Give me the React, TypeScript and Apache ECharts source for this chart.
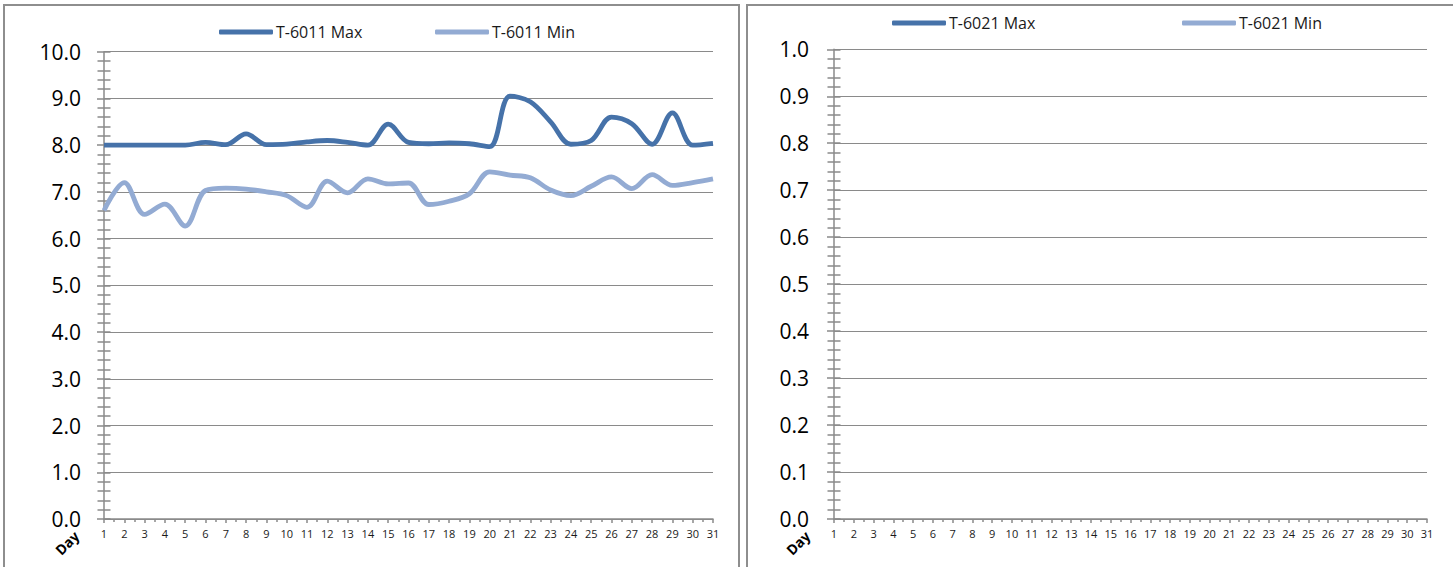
import React, { useEffect, useRef } from "react";
import * as echarts from "echarts";

const days = [1, 2, 3, 4, 5, 6, 7, 8, 9, 10, 11, 12, 13, 14, 15, 16, 17, 18, 19, 20, 21, 22, 23, 24, 25, 26, 27, 28, 29, 30, 31];

const t6011Max = [8.0, 8.0, 8.0, 8.0, 8.0, 8.06, 8.01, 8.24, 8.01, 8.02, 8.07, 8.1, 8.06, 8.0, 8.45, 8.06, 8.03, 8.05, 8.03, 7.97, 9.05, 8.93, 8.5, 8.02, 8.1, 8.6, 8.46, 8.02, 8.69, 8.0, 8.04];
const t6011Min = [6.6, 7.2, 6.52, 6.74, 6.27, 7.03, 7.08, 7.06, 7.0, 6.92, 6.67, 7.23, 6.98, 7.28, 7.17, 7.19, 6.73, 6.8, 6.96, 7.43, 7.36, 7.3, 7.04, 6.92, 7.12, 7.32, 7.07, 7.37, 7.14, 7.2, 7.28];
const t6021Max: (number | null)[] = [];
const t6021Min: (number | null)[] = [];

const leftNames = ["T-6011 Max", "T-6011 Min"];
const rightNames = ["T-6021 Max", "T-6021 Min"];

const COLOR_MAX = "#4672a9";
const COLOR_MIN = "#93abd3";
const GRID_COLOR = "#8a8a8a";
const FONT = "'Open Sans', 'Liberation Sans', sans-serif";

function pairs(vals: (number | null)[]) {
  return vals.map((v, i) => [days[i], v]);
}

function xAxes(gridIndex: number) {
  return [
    {
      type: "value",
      gridIndex,
      min: 1,
      max: 31,
      interval: 1,
      axisLine: { show: true, lineStyle: { color: GRID_COLOR, width: 1.5 } },
      axisTick: { show: true, length: 4, lineStyle: { color: GRID_COLOR, width: 1.5 } },
      axisLabel: { fontFamily: FONT, fontSize: 11, color: "#1a1a1a", margin: 9 },
      splitLine: { show: false },
    },
    {
      type: "value",
      gridIndex,
      min: 1,
      max: 31,
      interval: 1,
      axisLine: { show: false },
      axisTick: { show: false, inside: true },
      minorTick: { show: true, splitNumber: 2, length: 3, lineStyle: { color: GRID_COLOR, width: 1.5 } },
      axisLabel: { show: false },
      splitLine: { show: false },
    },
  ];
}

function yAxes(gridIndex: number, max: number, interval: number, margin: number) {
  return [
    {
      type: "value",
      gridIndex,
      position: "left",
      min: 0,
      max,
      interval,
      axisLine: { show: true, lineStyle: { color: GRID_COLOR, width: 1.5 } },
      axisTick: { show: true, length: 7, lineStyle: { color: GRID_COLOR, width: 1.5 } },
      minorTick: { show: true, splitNumber: 5, length: 6.5, lineStyle: { color: GRID_COLOR, width: 1.5 } },
      axisLabel: {
        fontFamily: FONT,
        fontSize: 21,
        color: "#000",
        margin,
        formatter: (v: number) => v.toFixed(1),
      },
      splitLine: { show: true, lineStyle: { color: GRID_COLOR, width: 1.2 } },
    },
    {
      type: "value",
      gridIndex,
      position: "left",
      offset: 0,
      min: 0,
      max,
      interval,
      axisLine: { show: false },
      axisTick: { show: true, inside: true, length: 6.5, lineStyle: { color: GRID_COLOR, width: 1.5 } },
      minorTick: { show: true, splitNumber: 5, length: 6.5, lineStyle: { color: GRID_COLOR, width: 1.5 } },
      axisLabel: { show: false },
      splitLine: { show: false },
    },
  ];
}

function legend(name: string, left: number, top: number) {
  return {
    data: [name],
    left,
    top,
    icon: "roundRect",
    itemWidth: 54,
    itemHeight: 5,
    padding: 0,
    textStyle: { fontFamily: FONT, fontSize: 16, color: "#1a1a1a", padding: [0, 0, 0, -2] },
  };
}

function lineSeries(name: string, vals: (number | null)[], color: string, axisIdx: number) {
  return {
    name,
    type: "line",
    xAxisIndex: axisIdx,
    yAxisIndex: axisIdx,
    data: pairs(vals),
    smooth: 0.35,
    showSymbol: false,
    symbol: "none",
    lineStyle: { color, width: 4.8 },
    itemStyle: { color },
  };
}

export default function App() {
  const ref = useRef<HTMLDivElement>(null);
  useEffect(() => {
    if (!ref.current) return;
    const chart = echarts.init(ref.current, undefined, { renderer: "svg" });
    chart.setOption({
      animation: false,
      backgroundColor: "#ffffff",
      grid: [
        { left: 104, top: 51.7, width: 609, height: 467.3, containLabel: false },
        { left: 834, top: 49.3, width: 593, height: 469.7, containLabel: false },
      ],
      xAxis: [...xAxes(0), ...xAxes(1)],
      yAxis: [...yAxes(0, 10, 1, 23), ...yAxes(1, 1, 0.1, 25)],
      legend: [
        legend(leftNames[0], 219, 24),
        legend(leftNames[1], 435, 24),
        legend(rightNames[0], 892, 15),
        legend(rightNames[1], 1182, 15),
      ],
      series: [
        lineSeries(leftNames[0], t6011Max, COLOR_MAX, 0),
        lineSeries(leftNames[1], t6011Min, COLOR_MIN, 0),
        lineSeries(rightNames[0], t6021Max, COLOR_MAX, 2),
        lineSeries(rightNames[1], t6021Min, COLOR_MIN, 2),
      ],
      graphic: [
        {
          type: "rect",
          shape: { x: 4, y: 5, width: 735, height: 620 },
          style: { fill: "none", stroke: "#8e8e8e", lineWidth: 2 },
          silent: true,
        },
        {
          type: "rect",
          shape: { x: 747, y: 5, width: 730, height: 620 },
          style: { fill: "none", stroke: "#8e8e8e", lineWidth: 2 },
          silent: true,
        },
        {
          type: "text",
          x: 67,
          y: 543,
          rotation: Math.PI / 4,
          style: {
            text: "Day",
            font: "bold 14px 'Open Sans', 'Liberation Sans', sans-serif",
            fill: "#000",
            align: "center",
            verticalAlign: "middle",
          },
        },
        {
          type: "text",
          x: 798,
          y: 543,
          rotation: Math.PI / 4,
          style: {
            text: "Day",
            font: "bold 14px 'Open Sans', 'Liberation Sans', sans-serif",
            fill: "#000",
            align: "center",
            verticalAlign: "middle",
          },
        },
      ],
    });
    return () => chart.dispose();
  }, []);
  return (
    <div
      ref={ref}
      style={{ position: "fixed", left: 0, top: 0, width: 1453, height: 567, background: "#fff" }}
    />
  );
}
